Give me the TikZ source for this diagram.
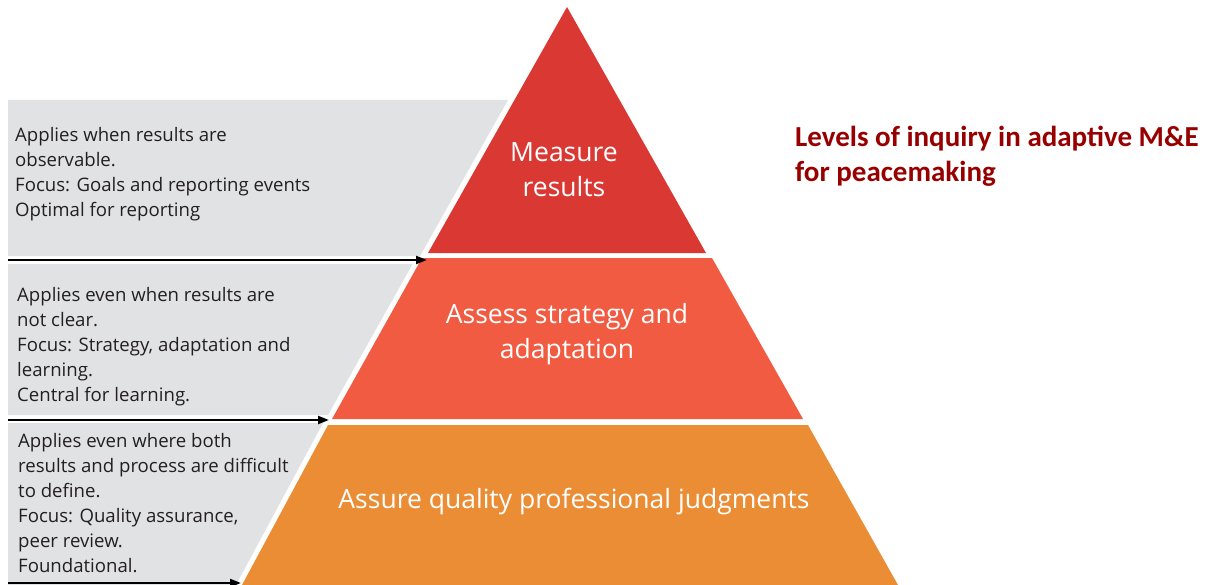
\documentclass[tikz,border=0pt]{standalone}
\usepackage{fontspec}
\setmainfont{Open Sans}
\newfontfamily\headfont{Carlito}
\usetikzlibrary{arrows.meta}
\definecolor{panelgray}{RGB}{225,226,228}
\definecolor{tierone}{RGB}{217,56,51}
\definecolor{tiertwo}{RGB}{241,91,66}
\definecolor{tierthree}{RGB}{235,141,52}
\definecolor{headred}{RGB}{152,0,0}
\definecolor{inktext}{RGB}{35,31,32}

\begin{document}
\begin{tikzpicture}[x=1pt,y=-1pt,
  panel/.style={fill=panelgray, draw=none},
  note/.style={anchor=base west, inner sep=0pt, align=left, text=inktext,
    font=\fontsize{18.6}{25}\selectfont},
  tierlabel/.style={anchor=base, inner sep=0pt, align=center, text=white,
    font=\fontsize{26.5}{35}\selectfont},
  pointer/.style={draw=black, line width=2.2pt,
    -{Triangle[length=11pt,width=8pt]}},
]
\useasboundingbox (0,0) rectangle (1214,585);

% grey side panels, one per level
\fill[panel] (8,100) -- (508,100) -- (420,256) -- (8,256) -- cycle;
\fill[panel] (8,264) -- (412.6,264) -- (328,415) -- (8,415) -- cycle;
\fill[panel] (8,423) -- (323,423) -- (236,585) -- (8,585) -- cycle;

% pyramid levels
\coordinate (apex) at (567,7);
\coordinate (t1sw) at (428,253);
\coordinate (t1se) at (706,253);
\coordinate (t2nw) at (422,258);
\coordinate (t2ne) at (712,258);
\coordinate (t2se) at (803,419);
\coordinate (t2sw) at (332,419);
\coordinate (t3nw) at (328,425);
\coordinate (t3ne) at (808,425);
\coordinate (t3se) at (898,585);
\coordinate (t3sw) at (242,585);
\fill[tierone] (apex) -- (t1se) -- (t1sw) -- cycle;
\fill[tiertwo] (t2nw) -- (t2ne) -- (t2se) -- (t2sw) -- cycle;
\fill[tierthree] (t3nw) -- (t3ne) -- (t3se) -- (t3sw) -- cycle;

% level labels (anchored at the baseline of the last line)
\node[tierlabel] (lab1) at (564,197) {Measure\\results};
\node[tierlabel] (lab2) at (567,358) {Assess strategy and\\adaptation};
\node[tierlabel] (lab3) at (574,508) {Assure quality professional judgments};

% descriptions
\node[note] (note1) at (15,217) {Applies when results are\\observable.\\Focus: Goals and reporting events\\Optimal for reporting};
\node[note] (note2) at (17,401) {Applies even when results are\\not clear.\\Focus: Strategy, adaptation and\\learning.\\Central for learning.};
\node[note] (note3) at (18,572) {Applies even where both\\results and process are difficult\\to define.\\Focus: Quality assurance,\\peer review.\\Foundational.};

% boundary pointers
\coordinate (p1s) at (8,260);
\coordinate (p1e) at (427,260);
\coordinate (p2s) at (8,420);
\coordinate (p2e) at (329,420);
\coordinate (p3s) at (8,583);
\coordinate (p3e) at (241,583);
\draw[pointer] (p1s) -- (p1e);
\draw[pointer] (p2s) -- (p2e);
\draw[pointer] (p3s) -- (p3e);

% heading
\node[anchor=base west, inner sep=0pt, align=left, text=headred,
  font=\headfont\bfseries\fontsize{29}{35}\selectfont] (title) at (795,182)
  {Levels of inquiry in adaptive M\&E\\for peacemaking};
\end{tikzpicture}
\end{document}
